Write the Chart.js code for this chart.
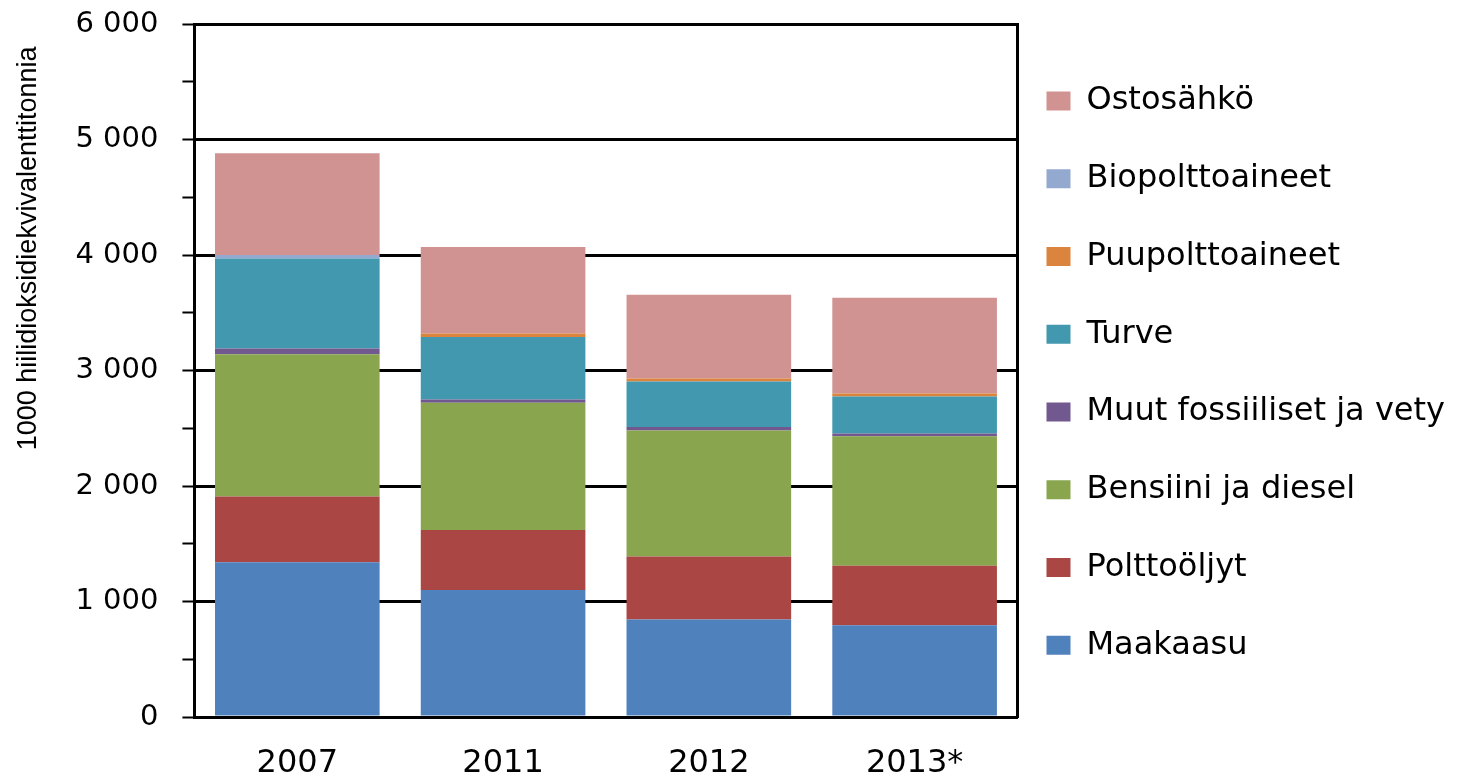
<!DOCTYPE html>
<html>
<head>
<meta charset="utf-8">
<script src="https://cdn.jsdelivr.net/npm/chart.js@4.4.1/dist/chart.umd.min.js"></script>
<style>
  body { margin: 0; background: #fff; }
</style>
</head>
<body>
<canvas id="paastotChart" width="1474" height="784"></canvas>
<script>
// vuodet
var vuodet = ["2007", "2011", "2012", "2013*"];

// 1000 t CO2-ekv, luettu kuvasta
var maakaasu = [1340, 1100, 845, 795];
var polttooljyt = [570, 520, 545, 515];
var bensiiniDiesel = [1230, 1100, 1090, 1120];
var muutFossiiliset = [50, 30, 30, 25];
var turve = [780, 540, 395, 320];
var puupolttoaineet = [0, 30, 25, 25];
var biopolttoaineet = [30, 0, 0, 0];
var ostosahko = [880, 750, 725, 830];

var yMin = 0, yMax = 6000, yStep = 500;

function muotoile(v) {
    return String(v).replace(/\B(?=(\d{3})+(?!\d))/g, " ");
}

Chart.defaults.font.family = "'DejaVu Sans', sans-serif";
Chart.defaults.color = "#000";

var ctx = document.getElementById("paastotChart").getContext("2d");

var paastotChart = new Chart(ctx, {
    type: "bar",
    data: {
        labels: vuodet,
        datasets: [
            { label: "Maakaasu", data: maakaasu, backgroundColor: "#4F81BD" },
            { label: "Polttoöljyt", data: polttooljyt, backgroundColor: "#AA4643" },
            { label: "Bensiini ja diesel", data: bensiiniDiesel, backgroundColor: "#89A54E" },
            { label: "Muut fossiiliset ja vety", data: muutFossiiliset, backgroundColor: "#71588F" },
            { label: "Turve", data: turve, backgroundColor: "#4198AF" },
            { label: "Puupolttoaineet", data: puupolttoaineet, backgroundColor: "#DB843D" },
            { label: "Biopolttoaineet", data: biopolttoaineet, backgroundColor: "#93A9CF" },
            { label: "Ostosähkö", data: ostosahko, backgroundColor: "#D19392" }
        ]
    },
    options: {
        responsive: false,
        animation: false,
        layout: {
            padding: { left: 8, right: 19, top: 0, bottom: 0 }
        },
        datasets: {
            bar: { barPercentage: 0.8, categoryPercentage: 1, borderWidth: 0 }
        },
        plugins: {
            tooltip: { enabled: false },
            legend: {
                position: "right",
                reverse: true,
                maxWidth: 480,
                labels: {
                    boxWidth: 24,
                    boxHeight: 19,
                    padding: 8,
                    color: "#000",
                    font: { size: 32, lineHeight: 2.18 },
                    generateLabels: function (chart) {
                        var items = Chart.defaults.plugins.legend.labels.generateLabels(chart);
                        items.forEach(function (it) { it.text = [it.text]; });
                        return items;
                    }
                }
            }
        },
        scales: {
            x: {
                stacked: true,
                grid: { display: false, drawTicks: true, tickLength: 26 },
                border: { color: "#000", width: 3 },
                ticks: { padding: 0, font: { size: 32, lineHeight: 41 / 32 } }
            },
            y: {
                stacked: true,
                min: yMin,
                max: yMax,
                grid: {
                    color: function (c) { return c.tick && c.tick.value % 1000 === 0 ? "#000" : "rgba(0,0,0,0)"; },
                    lineWidth: 3,
                    tickColor: "#000",
                    tickWidth: 2,
                    tickLength: 12
                },
                border: { color: "#000", width: 3 },
                ticks: {
                    stepSize: yStep,
                    autoSkip: false,
                    padding: 24,
                    font: { size: 29, lineHeight: 0 },
                    callback: function (v) { return v % 1000 === 0 ? muotoile(v) : ""; }
                },
                title: {
                    display: true,
                    text: "1000 hiilidioksidiekvivalenttitonnia   ",
                    align: "end",
                    padding: { top: 4, bottom: 7 },
                    font: { family: "'Liberation Sans', Arial, sans-serif", size: 27 }
                }
            },
            y2: {
                position: "right",
                min: yMin,
                max: yMax,
                grid: { drawOnChartArea: false, drawTicks: false },
                ticks: { display: false },
                border: { color: "#000", width: 3 },
                afterFit: function (s) { s.width = 21; }
            }
        }
    }
});
</script>
</body>
</html>
